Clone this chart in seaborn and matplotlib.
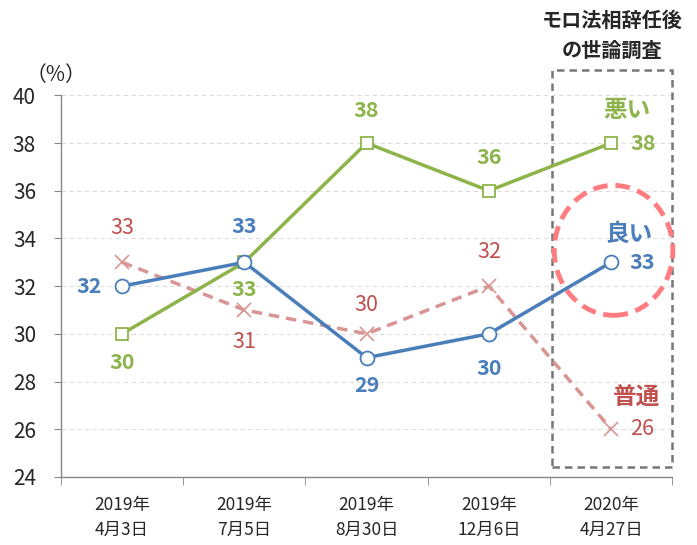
import pandas as pd
import matplotlib.pyplot as plt
import seaborn as sns
from matplotlib.patches import Ellipse, Rectangle

# data
dates = ['2019年\n4月3日', '2019年\n7月5日', '2019年\n8月30日', '2019年\n12月6日', '2020年\n4月27日']
good = [32, 33, 29, 30, 33]
bad = [30, 33, 38, 36, 38]
normal = [33, 31, 30, 32, 26]

sns.set_style('white')
plt.rcParams['font.family'] = ['Noto Sans CJK JP', 'DejaVu Sans']

blue = '#4a7ebb'
green = '#8db44a'
red_line = '#d99594'
red_text = '#c0504d'

fig = plt.figure(figsize=(6.97, 5.45), dpi=100)
ax = fig.add_axes([0.0875, 0.125, 0.877, 0.7])

x = list(range(len(dates)))
sns.lineplot(x=x, y=normal, ax=ax, color=red_line, lw=2.5, linestyle=(0, (3, 2)),
             marker='x', markersize=10, markeredgewidth=1.2, markeredgecolor=red_line)
sns.lineplot(x=x, y=bad, ax=ax, color=green, lw=2.5, marker='s', markersize=9,
             markerfacecolor='white', markeredgecolor=green, markeredgewidth=1.3)
sns.lineplot(x=x, y=good, ax=ax, color=blue, lw=2.5, marker='o', markersize=10,
             markerfacecolor='white', markeredgecolor=blue, markeredgewidth=1.3)

ax.set_xlim(-0.5, 4.5)
ax.set_ylim(24, 40)
ax.set_yticks(range(24, 41, 2))
ax.tick_params(axis='y', labelsize=15, length=5, color='#888888', direction='out', left=True, pad=13)
ax.set_xticks(x)
ax.set_xticklabels(dates, fontsize=12.5, linespacing=1.5)
ax.set_xticks([i - 0.5 for i in range(len(dates) + 1)], minor=True)
ax.tick_params(axis='x', which='major', length=0, pad=14)
ax.tick_params(axis='x', which='minor', length=6, color='#888888', direction='out', bottom=True)
ax.yaxis.grid(True, color='#dddddd', linestyle=(0, (4, 3)), lw=0.8)
ax.set_axisbelow(True)
for s in ['top', 'right']:
    ax.spines[s].set_visible(False)
for s in ['left', 'bottom']:
    ax.spines[s].set_color('#888888')
    ax.spines[s].set_linewidth(1)

lab = dict(fontsize=15.5, fontweight='bold', ha='center', va='center')
# good (blue) labels
good_off = [(-0.27, 0), (0, 1.5), (0, -1.15), (0, -1.45), (0.25, 0)]
for i, (dx, dy) in enumerate(good_off):
    ax.text(i + dx, good[i] + dy, str(good[i]), color=blue, **lab)
# bad (green) labels
bad_off = [(0, -1.2), (0, -1.15), (0, 1.35), (0, 1.4), (0.26, 0)]
for i, (dx, dy) in enumerate(bad_off):
    ax.text(i + dx, bad[i] + dy, str(bad[i]), color=green, **lab)
# normal (red) labels
norm_off = [(0, 1.45), (0, -1.35), (0, 1.2), (0, 1.45), (0.25, 0)]
for i, (dx, dy) in enumerate(norm_off):
    ax.text(i + dx, normal[i] + dy, str(normal[i]), color=red_text, fontsize=15.5,
            ha='center', va='center')

# series names
ax.text(4.13, 39.4, '悪い', color=green, fontsize=17, fontweight='bold', ha='center', va='center')
ax.text(4.15, 34.2, '良い', color=blue, fontsize=17, fontweight='bold', ha='center', va='center')
ax.text(4.21, 27.3, '普通', color=red_text, fontsize=17, fontweight='bold', ha='center', va='center')

# highlight box and circle
ax.add_patch(Rectangle((3.52, 24.42), 0.98, 16.63, fill=False, edgecolor='#777777',
                       lw=1.8, linestyle=(0, (3, 2)), clip_on=False))
ax.add_patch(Ellipse((4.02, 33.5), 0.97, 5.45, fill=False, edgecolor='#ff7c80',
                     lw=3.5, linestyle=(0, (3, 1.6)), clip_on=False))

fig.text(0.878, 0.963, 'モロ法相辞任後', fontsize=14.5, fontweight='bold', ha='center', va='center')
fig.text(0.878, 0.908, 'の世論調査', fontsize=14.5, fontweight='bold', ha='center', va='center')
fig.text(0.08, 0.862, '（%）', fontsize=15, ha='center', va='center')

fig.savefig('out.png', dpi=100)
